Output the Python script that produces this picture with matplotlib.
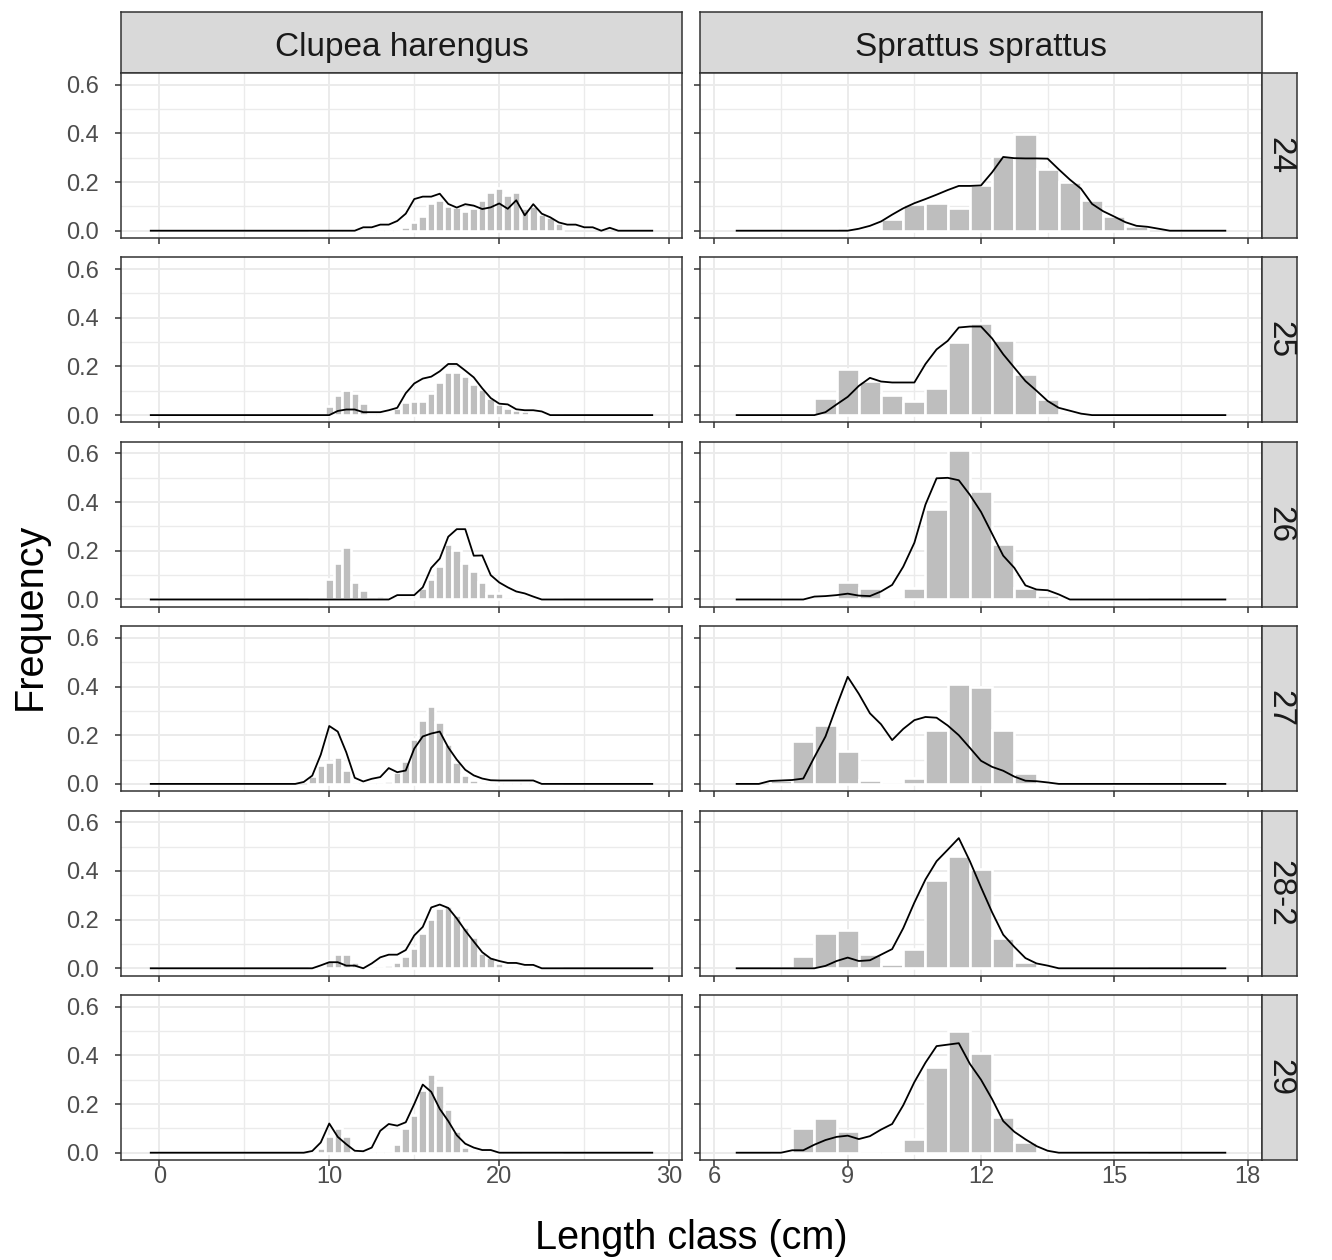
import numpy as np
import matplotlib
matplotlib.use("Agg")
import matplotlib.pyplot as plt

plt.rcParams['font.family'] = ['Liberation Sans', 'DejaVu Sans']

# ---------------- data ----------------
species = ["Clupea harengus", "Sprattus sprattus"]
areas = ["24", "25", "26", "27", "28-2", "29"]

# length classes (cm)
clupea_line_len = np.arange(-0.5, 29.01, 0.5)
sprat_line_len = np.arange(6.5, 17.51, 0.25)
clupea_bar_len = np.arange(9.0, 23.51, 0.5)
sprat_bar_len = np.arange(7.5, 15.51, 0.5)

# Clupea harengus - bars (9.0 ... 23.5 cm)
clupea_bar_24 = [0, 0, 0, 0, 0, 0, 0, 0, 0, 0,
                 0, 0.016, 0.037, 0.059, 0.113, 0.126, 0.102, 0.098, 0.082, 0.093,
                 0.126, 0.157, 0.177, 0.147, 0.157, 0.095, 0.102, 0.068, 0.055, 0.03]
clupea_bar_25 = [0, 0, 0.037, 0.081, 0.103, 0.092, 0.048, 0, 0, 0.01,
                 0.03, 0.052, 0.058, 0.058, 0.092, 0.134, 0.179, 0.179, 0.159, 0.127,
                 0.106, 0.072, 0.047, 0.03, 0.02, 0.017, 0.01, 0.005, 0, 0]
clupea_bar_26 = [0, 0, 0.084, 0.149, 0.216, 0.07, 0.038, 0, 0.014, 0,
                 0, 0, 0, 0.049, 0.084, 0.137, 0.227, 0.205, 0.149, 0.116,
                 0.07, 0.028, 0.028, 0, 0, 0, 0, 0, 0, 0]
clupea_bar_27 = [0.032, 0.078, 0.09, 0.11, 0.059, 0, 0, 0, 0, 0.01,
                 0.048, 0.096, 0.186, 0.264, 0.32, 0.255, 0.166, 0.092, 0.037, 0.014,
                 0, 0, 0, 0, 0, 0, 0, 0, 0, 0]
clupea_bar_282 = [0, 0, 0.032, 0.059, 0.059, 0.027, 0, 0, 0, 0.014,
                  0.027, 0.052, 0.082, 0.145, 0.203, 0.247, 0.258, 0.219, 0.168, 0.127,
                  0.063, 0.045, 0.022, 0, 0, 0, 0, 0, 0, 0]
clupea_bar_29 = [0, 0.021, 0.07, 0.1, 0.067, 0, 0, 0, 0, 0,
                 0.035, 0.1, 0.156, 0.256, 0.322, 0.278, 0.178, 0.09, 0.025, 0,
                 0, 0, 0, 0, 0, 0, 0, 0, 0, 0]

# Clupea harengus - line (-0.5 ... 29 cm)
clupea_line_24 = [0, 0, 0, 0, 0, 0, 0, 0, 0, 0,
                  0, 0, 0, 0, 0, 0, 0, 0, 0, 0,
                  0, 0, 0, 0, 0, 0.014, 0.014, 0.025, 0.025, 0.04,
                  0.07, 0.13, 0.14, 0.14, 0.152, 0.11, 0.095, 0.109, 0.103, 0.089,
                  0.096, 0.112, 0.09, 0.125, 0.063, 0.109, 0.07, 0.055, 0.034, 0.025,
                  0.025, 0.014, 0.014, 0, 0.012, 0, 0, 0, 0, 0]
clupea_line_25 = [0, 0, 0, 0, 0, 0, 0, 0, 0, 0,
                  0, 0, 0, 0, 0, 0, 0, 0, 0, 0,
                  0, 0, 0.017, 0.023, 0.023, 0.012, 0.012, 0.012, 0.02, 0.03,
                  0.09, 0.13, 0.15, 0.158, 0.18, 0.21, 0.21, 0.183, 0.155, 0.11,
                  0.07, 0.047, 0.044, 0.024, 0.02, 0.02, 0.015, 0, 0, 0,
                  0, 0, 0, 0, 0, 0, 0, 0, 0, 0]
clupea_line_26 = [0, 0, 0, 0, 0, 0, 0, 0, 0, 0,
                  0, 0, 0, 0, 0, 0, 0, 0, 0, 0,
                  0, 0, 0, 0, 0, 0, 0, 0, 0, 0.018,
                  0.018, 0.018, 0.05, 0.13, 0.168, 0.258, 0.289, 0.289, 0.18, 0.181,
                  0.1, 0.07, 0.05, 0.033, 0.025, 0.012, 0, 0, 0, 0,
                  0, 0, 0, 0, 0, 0, 0, 0, 0, 0]
clupea_line_27 = [0, 0, 0, 0, 0, 0, 0, 0, 0, 0,
                  0, 0, 0, 0, 0, 0, 0, 0, 0.008, 0.034,
                  0.12, 0.238, 0.215, 0.13, 0.025, 0.01, 0.021, 0.028, 0.065, 0.048,
                  0.055, 0.145, 0.195, 0.207, 0.215, 0.15, 0.1, 0.058, 0.035, 0.022,
                  0.015, 0.014, 0.014, 0.014, 0.014, 0.014, 0, 0, 0, 0,
                  0, 0, 0, 0, 0, 0, 0, 0, 0, 0]
clupea_line_282 = [0, 0, 0, 0, 0, 0, 0, 0, 0, 0,
                   0, 0, 0, 0, 0, 0, 0, 0, 0, 0,
                   0.012, 0.025, 0.025, 0.011, 0.011, 0, 0.02, 0.045, 0.056, 0.056,
                   0.075, 0.135, 0.17, 0.25, 0.262, 0.248, 0.205, 0.155, 0.11, 0.066,
                   0.04, 0.03, 0.022, 0.022, 0.014, 0.014, 0, 0, 0, 0,
                   0, 0, 0, 0, 0, 0, 0, 0, 0, 0]
clupea_line_29 = [0, 0, 0, 0, 0, 0, 0, 0, 0, 0,
                  0, 0, 0, 0, 0, 0, 0, 0, 0, 0.007,
                  0.042, 0.12, 0.065, 0.035, 0.008, 0.006, 0.021, 0.09, 0.118, 0.111,
                  0.125, 0.2, 0.28, 0.25, 0.18, 0.13, 0.072, 0.037, 0.021, 0.011,
                  0.011, 0, 0, 0, 0, 0, 0, 0, 0, 0,
                  0, 0, 0, 0, 0, 0, 0, 0, 0, 0]

# Sprattus sprattus - bars (7.5 ... 15.5 cm)
sprat_bar_24 = [0, 0, 0, 0.01, 0, 0.048, 0.109, 0.113, 0.093, 0.188, 0.307, 0.396,
                0.252, 0.2, 0.125, 0.059, 0.02]
sprat_bar_25 = [0, 0, 0.069, 0.189, 0.14, 0.081, 0.058, 0.113, 0.299, 0.378, 0.31,
                0.168, 0.068, 0, 0, 0, 0]
sprat_bar_26 = [0, 0, 0, 0.07, 0.049, 0, 0.049, 0.37, 0.614, 0.446, 0.226, 0.049,
                0.018, 0, 0, 0, 0]
sprat_bar_27 = [0.018, 0.177, 0.244, 0.134, 0.014, 0, 0.023, 0.22, 0.41, 0.397, 0.22,
                0.046, 0, 0, 0, 0, 0]
sprat_bar_282 = [0, 0.049, 0.145, 0.158, 0.059, 0.016, 0.079, 0.364, 0.463, 0.408,
                 0.123, 0.025, 0, 0, 0, 0, 0]
sprat_bar_29 = [0, 0.1, 0.143, 0.0875, 0, 0, 0.055, 0.354, 0.5, 0.41, 0.146, 0.046,
                0, 0, 0, 0, 0]

# Sprattus sprattus - line (6.5 ... 17.5 cm, 0.25 cm steps)
sprat_line_24 = [0, 0, 0, 0, 0, 0, 0, 0, 0, 0, 0,
                 0.008, 0.02, 0.038, 0.066, 0.092, 0.113, 0.13, 0.148, 0.167, 0.184,
                 0.184, 0.186, 0.24, 0.303, 0.298, 0.297, 0.297, 0.296, 0.252, 0.21,
                 0.173, 0.11, 0.08, 0.058, 0.035, 0.02, 0.016, 0.008,
                 0, 0, 0, 0, 0, 0]
sprat_line_25 = [0, 0, 0, 0, 0, 0, 0, 0,
                 0.012, 0.044, 0.075, 0.12, 0.153, 0.138, 0.134, 0.134, 0.134, 0.21,
                 0.27, 0.305, 0.36, 0.364, 0.364, 0.315, 0.25, 0.195, 0.14, 0.1,
                 0.058, 0.03, 0.018, 0.006,
                 0, 0, 0, 0, 0, 0, 0, 0, 0, 0, 0, 0, 0]
sprat_line_26 = [0, 0, 0, 0, 0, 0, 0,
                 0.012, 0.014, 0.018, 0.024, 0.016, 0.014, 0.033, 0.06, 0.135, 0.233,
                 0.39, 0.498, 0.5, 0.49, 0.43, 0.36, 0.27, 0.18, 0.13, 0.058, 0.041,
                 0.038, 0.021,
                 0, 0, 0, 0, 0, 0, 0, 0, 0, 0, 0, 0, 0, 0, 0]
sprat_line_27 = [0, 0, 0, 0.012, 0.014, 0.016, 0.022, 0.11, 0.195, 0.32, 0.44, 0.37,
                 0.29, 0.245, 0.18, 0.226, 0.262, 0.275, 0.272, 0.24, 0.2, 0.148,
                 0.095, 0.07, 0.054, 0.03, 0.013, 0.011, 0.006,
                 0, 0, 0, 0, 0, 0, 0, 0, 0, 0, 0, 0, 0, 0, 0, 0]
sprat_line_282 = [0, 0, 0, 0, 0, 0, 0, 0,
                  0.01, 0.03, 0.044, 0.03, 0.033, 0.056, 0.079, 0.165, 0.27, 0.365,
                  0.44, 0.487, 0.535, 0.44, 0.333, 0.23, 0.138, 0.088, 0.042, 0.02,
                  0.011,
                  0, 0, 0, 0, 0, 0, 0, 0, 0, 0, 0, 0, 0, 0, 0, 0]
sprat_line_29 = [0, 0, 0, 0, 0,
                 0.01, 0.01, 0.033, 0.052, 0.065, 0.07, 0.056, 0.068, 0.095, 0.118,
                 0.195, 0.29, 0.37, 0.438, 0.444, 0.45, 0.365, 0.3, 0.22, 0.13,
                 0.086, 0.055, 0.027, 0.008,
                 0, 0, 0, 0, 0, 0, 0, 0, 0, 0, 0, 0, 0, 0, 0, 0]

clupea_bars = [clupea_bar_24, clupea_bar_25, clupea_bar_26, clupea_bar_27, clupea_bar_282, clupea_bar_29]
clupea_lines = [clupea_line_24, clupea_line_25, clupea_line_26, clupea_line_27, clupea_line_282, clupea_line_29]
sprat_bars = [sprat_bar_24, sprat_bar_25, sprat_bar_26, sprat_bar_27, sprat_bar_282, sprat_bar_29]
sprat_lines = [sprat_line_24, sprat_line_25, sprat_line_26, sprat_line_27, sprat_line_282, sprat_line_29]

y_ticks = [0.0, 0.2, 0.4, 0.6]
y_minor = [0.1, 0.3, 0.5]
clupea_xticks = [0, 10, 20, 30]
clupea_xminor = [5, 15, 25]
sprat_xticks = [6, 9, 12, 15, 18]
sprat_xminor = [7.5, 10.5, 13.5, 16.5]

# ---------------- layout ----------------
W, H = 1332, 1260
fig = plt.figure(figsize=(W / 100, H / 100), dpi=100)
fig.patch.set_facecolor('white')


def px_axes(x0, y0, x1, y1):
    return fig.add_axes([x0 / W, 1 - y1 / H, (x1 - x0) / W, (y1 - y0) / H])


col_x = [(121, 682), (700, 1262)]
row_top0, row_h, row_step = 73, 165, 184.4
strip_top = 12
strip_right = 1297

GRID = '#EBEBEB'
DARK = '#333333'
BAR = '#BEBEBE'
TICKTXT = '#4D4D4D'
TICK_FS = 17
STRIP_FS = 24
TITLE_FS = 28.5

col_specs = [
    dict(bar_len=clupea_bar_len, bars=clupea_bars, line_len=clupea_line_len,
         lines=clupea_lines, xlim=(-2.25, 30.75), xt=clupea_xticks, xm=clupea_xminor),
    dict(bar_len=sprat_bar_len, bars=sprat_bars, line_len=sprat_line_len,
         lines=sprat_lines, xlim=(5.675, 18.325), xt=sprat_xticks, xm=sprat_xminor),
]

for c, spec in enumerate(col_specs):
    x0, x1 = col_x[c]
    # top strip
    sax = px_axes(x0, strip_top, x1, row_top0)
    sax.set_facecolor('#D9D9D9')
    sax.set_xticks([]); sax.set_yticks([])
    for s in sax.spines.values():
        s.set_color(DARK); s.set_linewidth(1.1)
    sax.text(0.5, 0.42, species[c], ha='center', va='center', fontsize=STRIP_FS,
             color='#1A1A1A', transform=sax.transAxes)
    for r in range(len(areas)):
        y0 = row_top0 + r * row_step
        y1 = y0 + row_h
        ax = px_axes(x0, y0, x1, y1)
        ax.set_facecolor('white')
        ax.set_xlim(*spec['xlim'])
        ax.set_ylim(-0.03, 0.648)
        ax.set_xticks(spec['xt'])
        ax.set_xticks(spec['xm'], minor=True)
        ax.set_yticks(y_ticks)
        ax.set_yticks(y_minor, minor=True)
        ax.grid(which='major', color=GRID, linewidth=1.4)
        ax.grid(which='minor', color=GRID, linewidth=1.0)
        ax.set_axisbelow(True)
        ax.bar(spec['bar_len'], spec['bars'][r], width=0.5, color=BAR,
               edgecolor='white', linewidth=1.9, zorder=2)
        ax.plot(spec['line_len'], spec['lines'][r], color='black', linewidth=1.3,
                zorder=3, solid_joinstyle='round')
        for s in ax.spines.values():
            s.set_color(DARK); s.set_linewidth(1.1); s.set_zorder(5)
        ax.tick_params(which='minor', length=0)
        ax.tick_params(which='major', length=4, width=1.1, color=DARK,
                       labelsize=TICK_FS, labelcolor=TICKTXT, pad=0.5)
        ax.tick_params(axis='y', pad=12)
        if c == 0:
            ax.set_yticklabels(['0.0', '0.2', '0.4', '0.6'])
        else:
            ax.tick_params(axis='y', labelleft=False)
        if r < len(areas) - 1:
            ax.tick_params(axis='x', labelbottom=False)
        else:
            ax.set_xticklabels([str(v) for v in spec['xt']])
        if c == 1:
            rax = px_axes(x1, y0, strip_right, y1)
            rax.set_facecolor('#D9D9D9')
            rax.set_xticks([]); rax.set_yticks([])
            for s in rax.spines.values():
                s.set_color(DARK); s.set_linewidth(1.1)
            rax.text(0.5, 0.5, areas[r], ha='center', va='center', rotation=-90,
                     fontsize=STRIP_FS, color='#1A1A1A', transform=rax.transAxes)

fig.text(30 / W, 1 - 616 / H, 'Frequency', rotation=90, ha='center', va='center',
         fontsize=TITLE_FS, color='black')
fig.text(691.5 / W, 1 - 1238 / H, 'Length class (cm)', ha='center', va='center',
         fontsize=TITLE_FS, color='black')

fig.savefig('out.png', dpi=100, facecolor='white')
